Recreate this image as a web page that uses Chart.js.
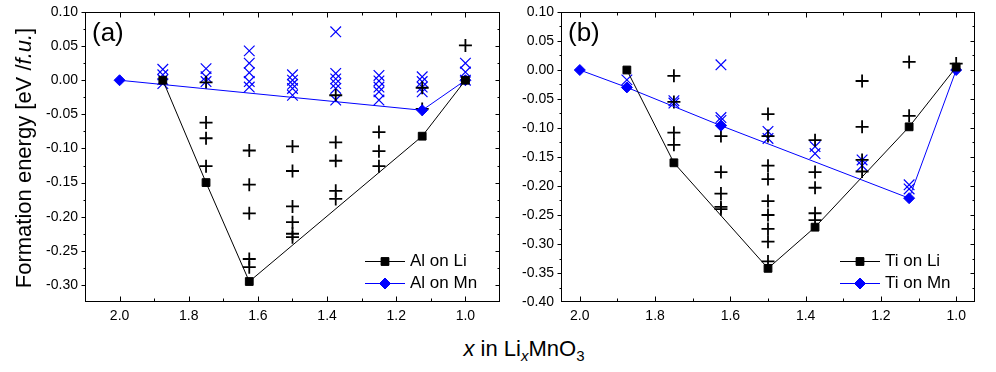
<!DOCTYPE html>
<html>
<head>
<meta charset="utf-8">
<script src="https://cdn.jsdelivr.net/npm/chart.js@4/dist/chart.umd.min.js"></script>
<style>
  body { margin: 0; background: #fff; }
  #wrap { position: relative; width: 996px; height: 372px; font-family: 'Liberation Sans', Arial, sans-serif; color: #000; }
  #wrap canvas { position: absolute; top: 0; }
  .title { position: absolute; white-space: nowrap; font-size: 22px; line-height: 24px; text-align: center; width: 300px; }
  #ytitle { left: 0; top: 0; transform-origin: 0 0; transform: translate(12px, 308px) rotate(-90deg); }
  #xtitle { left: 374px; top: 337px; }
  #xtitle sub { font-size: 15px; line-height: 0; }
</style>
</head>
<body>
<div id="wrap">
  <canvas id="chartA" width="510" height="330" style="left:0"></canvas>
  <canvas id="chartB" width="486" height="330" style="left:510px"></canvas>
  <div class="title" id="ytitle">Formation energy [eV /<i>f.u.</i>]</div>
  <div class="title" id="xtitle"><i>x</i> in Li<sub><i>x</i></sub>MnO<sub>3</sub></div>
</div>
<script>
// tick labels
const xTicks = [2.0, 1.8, 1.6, 1.4, 1.2, 1.0];
const yTicksA = [0.10, 0.05, 0.00, -0.05, -0.10, -0.15, -0.20, -0.25, -0.30];
const yTicksB = [0.10, 0.05, 0.00, -0.05, -0.10, -0.15, -0.20, -0.25, -0.30, -0.35, -0.40];

// (a) Al doping: lowest-energy hull lines
const alOnLiX = [1.875, 1.75, 1.625, 1.125, 1.0];
const alOnLiE = [0, -0.150, -0.295, -0.082, 0];
const alOnMnX = [2.0, 1.125, 1.0];
const alOnMnE = [0, -0.044, 0];

// (a) all configurations (+ on Li, x on Mn)
const alLiCfgX = [1.75, 1.75, 1.75, 1.75,
  1.625, 1.625, 1.625, 1.625, 1.625,
  1.5, 1.5, 1.5, 1.5, 1.5, 1.5,
  1.375, 1.375, 1.375, 1.375, 1.375,
  1.25, 1.25, 1.25,
  1.125, 1.125,
  1.0];
const alLiCfgE = [-0.003, -0.062, -0.085, -0.126,
  -0.103, -0.153, -0.195, -0.262, -0.274,
  -0.097, -0.133, -0.185, -0.208, -0.225, -0.230,
  -0.022, -0.091, -0.118, -0.162, -0.174,
  -0.076, -0.104, -0.126,
  -0.011, -0.042,
  0.051];
const alMnCfgX = [1.875, 1.875, 1.875, 1.875,
  1.75, 1.75, 1.75,
  1.625, 1.625, 1.625, 1.625, 1.625,
  1.5, 1.5, 1.5, 1.5, 1.5,
  1.375, 1.375, 1.375, 1.375, 1.375, 1.375,
  1.25, 1.25, 1.25, 1.25, 1.25,
  1.125, 1.125, 1.125, 1.125,
  1.0, 1.0, 1.0];
const alMnCfgE = [0.016, 0.008, 0.001, -0.005,
  0.017, 0.005, -0.002,
  0.043, 0.025, 0.011, -0.002, -0.010,
  0.008, 0.000, -0.006, -0.012, -0.022,
  0.071, 0.010, 0.002, -0.005, -0.012, -0.029,
  0.007, -0.001, -0.010, -0.017, -0.029,
  0.005, -0.002, -0.010, -0.017,
  0.025, 0.012, 0.000];

// (b) Ti doping: hull lines
const tiOnLiX = [1.875, 1.75, 1.5, 1.375, 1.125, 1.0];
const tiOnLiE = [0, -0.160, -0.342, -0.271, -0.098, 0.005];
const tiOnMnX = [2.0, 1.875, 1.625, 1.125, 1.0];
const tiOnMnE = [0, -0.030, -0.096, -0.221, 0];

// (b) all configurations
const tiLiCfgX = [1.75, 1.75, 1.75, 1.75,
  1.625, 1.625, 1.625, 1.625, 1.625,
  1.5, 1.5, 1.5, 1.5, 1.5, 1.5, 1.5, 1.5, 1.5,
  1.375, 1.375, 1.375, 1.375, 1.375,
  1.25, 1.25, 1.25, 1.25,
  1.125, 1.125,
  1.0];
const tiLiCfgE = [-0.010, -0.055, -0.108, -0.129,
  -0.114, -0.176, -0.213, -0.236, -0.240,
  -0.076, -0.114, -0.165, -0.188, -0.226, -0.250, -0.274, -0.296, -0.330,
  -0.121, -0.176, -0.203, -0.247, -0.259,
  -0.019, -0.098, -0.155, -0.175,
  0.014, -0.079,
  0.011];
const tiMnCfgX = [1.875, 1.75, 1.75, 1.625, 1.625, 1.625, 1.5, 1.5, 1.375, 1.375, 1.25, 1.25, 1.125, 1.125];
const tiMnCfgE = [-0.017, -0.053, -0.057, 0.009, -0.082, -0.087, -0.106, -0.118, -0.132, -0.144, -0.155, -0.165, -0.198, -0.205];

const BLUE = '#0000ff';
const FONT = "'Liberation Sans', Arial, sans-serif";
Chart.defaults.font.family = FONT;
Chart.defaults.color = '#000';

const pts = (xs, ys) => xs.map((x, i) => ({x: x, y: ys[i]}));

// box around plot with inward ticks (left side outward)
const frame = {
  id: 'frame',
  afterDraw(chart) {
    const {ctx, chartArea: a, scales: {x, y}} = chart;
    const L = Math.round(a.left) + 0.5, R = Math.round(a.right) - 0.5;
    const T = Math.round(a.top) + 0.5, B = Math.round(a.bottom) - 0.5;
    ctx.save();
    ctx.strokeStyle = '#000';
    ctx.lineWidth = 1;
    ctx.strokeRect(L, T, R - L, B - T);
    ctx.beginPath();
    const xs = x.ticks.map(t => t.value);
    const ys = y.ticks.map(t => t.value);
    const xStep = Math.abs(xs[1] - xs[0]) / 2, yStep = Math.abs(ys[1] - ys[0]) / 2;
    for (let v = Math.min(...xs) - xStep; v <= Math.max(...xs) + xStep + 1e-9; v += xStep) {
      const major = xs.some(t => Math.abs(t - v) < 1e-6);
      const px = Math.round(x.getPixelForValue(v)) + 0.5;
      if (px <= L || px >= R) continue;
      const len = major ? 5 : 3;
      ctx.moveTo(px, B); ctx.lineTo(px, B - len);
      ctx.moveTo(px, T); ctx.lineTo(px, T + len);
    }
    for (let v = Math.min(...ys) - yStep; v <= Math.max(...ys) + yStep + 1e-9; v += yStep) {
      const major = ys.some(t => Math.abs(t - v) < 1e-6);
      const py = Math.round(y.getPixelForValue(v)) + 0.5;
      if (py < T - 0.1 || py > B + 0.1) continue;
      const len = major ? 4 : 2;
      ctx.moveTo(L, py); ctx.lineTo(L - len, py);
      if (py > T && py < B) { ctx.moveTo(R, py); ctx.lineTo(R - len, py); }
    }
    ctx.stroke();
    ctx.restore();
  }
};

// panel tag and in-plot legend
const legendBox = {
  id: 'legendBox',
  afterDraw(chart, args, opts) {
    const {ctx, chartArea: a} = chart;
    ctx.save();
    ctx.fillStyle = '#000';
    ctx.textBaseline = 'middle';
    ctx.font = '26px ' + FONT;
    ctx.fillText(opts.tag, a.left + 7, a.top + 22);
    ctx.font = '17px ' + FONT;
    chart.data.datasets.filter(d => d.inLegend).forEach((d, i) => {
      const y = Math.round(a.bottom - 41 + i * 22) + 0.5;
      const x0 = a.right - 135;
      ctx.strokeStyle = d.borderColor;
      ctx.lineWidth = 1;
      ctx.beginPath();
      ctx.moveTo(x0, y); ctx.lineTo(x0 + 40, y);
      ctx.stroke();
      Chart.helpers.drawPoint(ctx, {
        pointStyle: d.pointStyle, radius: d.pointRadius, borderWidth: 1, rotation: 0
      }, x0 + 20, y);
      ctx.fillStyle = d.pointBackgroundColor;
      ctx.strokeStyle = d.pointBackgroundColor;
      ctx.fill();
      ctx.fillStyle = '#000';
      ctx.fillText(d.label, x0 + 45, y);
    });
    ctx.restore();
  }
};

function makeChart(id, opt) {
  return new Chart(document.getElementById(id), {
    type: 'scatter',
    data: {
      datasets: [
        {
          label: opt.names[0], inLegend: true, data: opt.liLine, showLine: true,
          borderColor: '#000', borderWidth: 1, pointStyle: 'rect', pointRadius: 5.5,
          pointBackgroundColor: '#000', pointBorderColor: '#000', pointBorderWidth: 1, order: 1
        },
        {
          label: opt.names[1], inLegend: true, data: opt.mnLine, showLine: true,
          borderColor: BLUE, borderWidth: 1, pointStyle: 'rectRot', pointRadius: 5.5,
          pointBackgroundColor: BLUE, pointBorderColor: BLUE, pointBorderWidth: 1, order: 2
        },
        {
          label: 'cfg Li', data: opt.liCfg, pointStyle: 'cross', pointRadius: 6.5,
          pointBorderColor: '#000', pointBorderWidth: 1.8, order: 3
        },
        {
          label: 'cfg Mn', data: opt.mnCfg, pointStyle: 'crossRot', pointRadius: 7.5,
          pointBorderColor: BLUE, pointBorderWidth: 1.2, order: 4
        }
      ]
    },
    options: {
      responsive: false,
      animation: false,
      events: [],
      layout: { padding: opt.padding },
      plugins: {
        legend: { display: false },
        tooltip: { enabled: false },
        legendBox: { tag: opt.tag }
      },
      scales: {
        x: {
          type: 'linear', reverse: true, min: opt.xMin, max: opt.xMax,
          grid: { display: false, drawTicks: false }, border: { display: false },
          ticks: { font: { size: 14 }, padding: 6, callback: v => v.toFixed(1) },
          afterBuildTicks: s => { s.ticks = xTicks.map(v => ({value: v})); },
          afterFit: s => { s.height = 28; s.paddingLeft = 0; s.paddingRight = 0; }
        },
        y: {
          type: 'linear', min: opt.yMin, max: opt.yMax,
          grid: { display: false, drawTicks: false }, border: { display: false },
          ticks: { font: { size: 14 }, padding: 7, callback: v => v.toFixed(2) },
          afterBuildTicks: s => { s.ticks = opt.yTicks.map(v => ({value: v})); },
          afterFit: s => { s.width = 45; s.paddingTop = 0; s.paddingBottom = 0; }
        }
      }
    },
    plugins: [frame, legendBox]
  });
}

makeChart('chartA', {
  tag: '(a)', names: ['Al on Li', 'Al on Mn'],
  liLine: pts(alOnLiX, alOnLiE), mnLine: pts(alOnMnX, alOnMnE),
  liCfg: pts(alLiCfgX, alLiCfgE), mnCfg: pts(alMnCfgX, alMnCfgE),
  xMin: 0.9, xMax: 2.1, yMin: -0.325, yMax: 0.10, yTicks: yTicksA,
  padding: { left: 40, right: 10, top: 12, bottom: 0 }
});

makeChart('chartB', {
  tag: '(b)', names: ['Ti on Li', 'Ti on Mn'],
  liLine: pts(tiOnLiX, tiOnLiE), mnLine: pts(tiOnMnX, tiOnMnE),
  liCfg: pts(tiLiCfgX, tiLiCfgE), mnCfg: pts(tiMnCfgX, tiMnCfgE),
  xMin: 0.95, xMax: 2.05, yMin: -0.40, yMax: 0.10, yTicks: yTicksB,
  padding: { left: 6, right: 21, top: 12, bottom: 0 }
});
</script>
</body>
</html>
